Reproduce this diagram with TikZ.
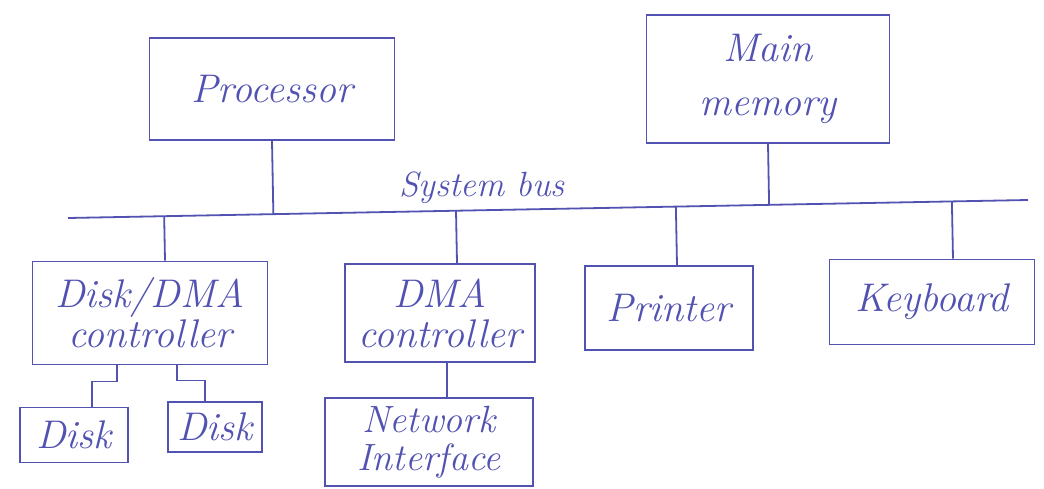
\documentclass[tikz,border=0pt]{standalone}
\usetikzlibrary{calc}
\definecolor{ink}{RGB}{82,82,178}
\begin{document}
\begin{tikzpicture}[x=1pt,y=-1pt,
  box/.style={draw=ink, line width=1.8pt, inner sep=0pt, align=center,
    text=ink, font=\fontsize{40}{40}\selectfont\itshape},
  wire/.style={draw=ink, line width=1.8pt},
  lbl/.style={text=ink, inner sep=0pt, font=\fontsize{35}{40}\selectfont\itshape}]
\useasboundingbox (0,0) rectangle (1044,489);
\fill[white] (0,0) rectangle (1044,489);

% top row: processor and memory
\node[box, minimum width=245pt, minimum height=102pt] (proc) at (272,89) {Processor};
\node[box, minimum width=243pt, minimum height=128pt] (mem) at (768,79) {Main\\[14pt]memory};

% the system bus
\coordinate (busL) at (68,218);
\coordinate (busR) at (1028,200);
\draw[wire] (busL) -- (busR);
\node[lbl] (buslbl) at (482,188) {System bus};

% devices hanging off the bus
\node[box, minimum width=235pt, minimum height=103pt] (ddma) at (150,313) {Disk/DMA\\controller};
\node[box, minimum width=190pt, minimum height=98pt] (dma) at (440,313) {DMA\\controller};
\node[box, minimum width=168pt, minimum height=84pt] (prn) at (669,308) {Printer};
\node[box, minimum width=205pt, minimum height=85pt] (kbd) at (932,302) {Keyboard};

% second level
\node[box, minimum width=108pt, minimum height=55pt] (disk1) at (74,435) {Disk};
\node[box, minimum width=94pt, minimum height=50pt] (disk2) at (215,427) {Disk};
\node[box, minimum width=208pt, minimum height=88pt, font=\fontsize{38}{38}\selectfont\itshape] (net) at (429,442) {Network\\Interface};

% bus taps
\draw[wire] (proc.south) -- ($(busL)!(proc.south)!(busR)$);
\draw[wire] (mem.south) -- ($(busL)!(mem.south)!(busR)$);
\coordinate (t1) at ([xshift=15pt]ddma.north);
\coordinate (t2) at ([xshift=17pt]dma.north);
\coordinate (t3) at ([xshift=8pt]prn.north);
\coordinate (t4) at ([xshift=21pt]kbd.north);
\foreach \t in {t1,t2,t3,t4}
  \draw[wire] ($(busL)!(\t)!(busR)$) -- (\t);

% local links
\draw[wire] ([xshift=-33pt]ddma.south) -- ++(0,16) -| ([xshift=18pt]disk1.north);
\draw[wire] ([xshift=27pt]ddma.south) -- ++(0,15) -| ([xshift=-10pt]disk2.north);
\draw[wire] ([xshift=7pt]dma.south) -- ([xshift=7pt]dma.south |- net.north);
\end{tikzpicture}
\end{document}
